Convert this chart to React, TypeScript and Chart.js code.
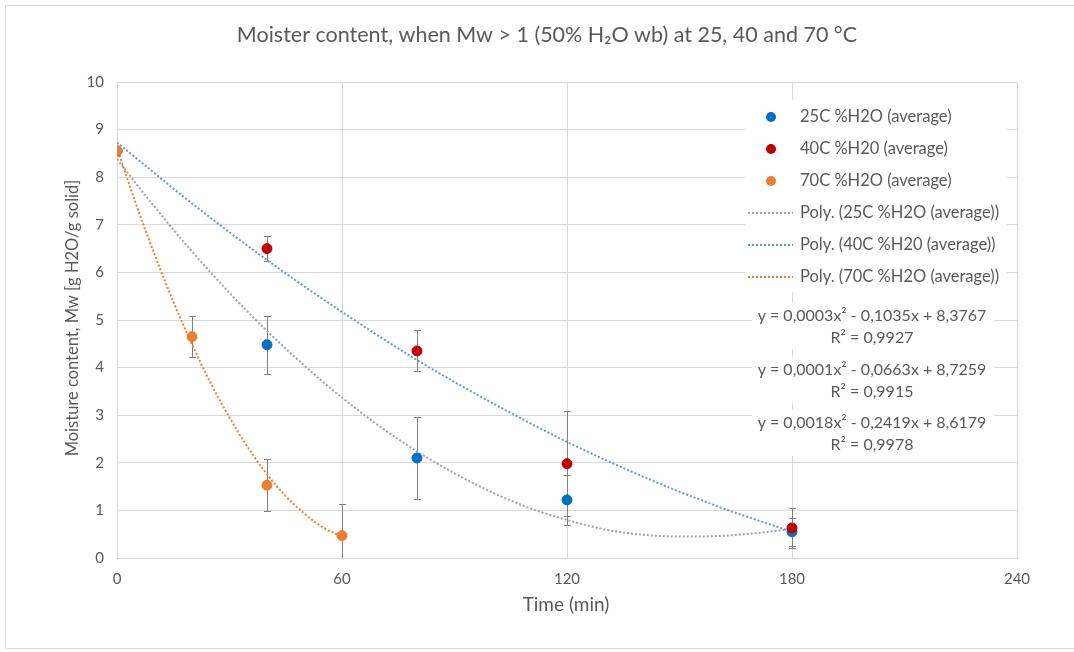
import { useEffect, useRef } from 'react';
import { Chart, registerables } from 'chart.js';
Chart.register(...registerables);

// ---- data ----
const t25 = [0, 40, 80, 120, 180];
const m25 = [8.55, 4.48, 2.1, 1.22, 0.55];
const e25 = [0, 0.61, 0.87, 0.52, 0.3];

const t40 = [0, 40, 80, 120, 180];
const m40 = [8.55, 6.5, 4.35, 1.98, 0.63];
const e40 = [0, 0.27, 0.43, 1.1, 0.42];

const t70 = [0, 20, 40, 60];
const m70 = [8.55, 4.65, 1.53, 0.47];
const e70 = [0, 0.43, 0.55, 0.66];

const trendT25 = [0, 10, 20, 30, 40, 50, 60, 70, 80, 90, 100, 110, 120, 130, 140, 150, 160, 170, 180];
const trendM25 = [8.38, 7.38, 6.44, 5.57, 4.77, 4.04, 3.37, 2.77, 2.24, 1.78, 1.38, 1.05, 0.8, 0.6, 0.49, 0.45, 0.46, 0.52, 0.61];

const trendT40 = [0, 20, 40, 60, 80, 100, 120, 140, 160, 180];
const trendM40 = [8.73, 7.45, 6.26, 5.17, 4.16, 3.26, 2.44, 1.72, 1.09, 0.55];

const trendT70 = [0, 5, 10, 15, 20, 25, 30, 35, 40, 45, 50, 55, 60];
const trendM70 = [8.62, 7.45, 6.38, 5.39, 4.49, 3.67, 2.95, 2.31, 1.76, 1.3, 0.93, 0.64, 0.45];

const legendLabels = [
  '25C %H2O (average)',
  '40C %H20 (average)',
  '70C %H2O (average)',
  'Poly. (25C %H2O (average))',
  'Poly. (40C %H20 (average))',
  'Poly. (70C %H2O (average))',
];
const equations = [
  ['y = 0,0003x² - 0,1035x + 8,3767', 'R² = 0,9927'],
  ['y = 0,0001x² - 0,0663x + 8,7259', 'R² = 0,9915'],
  ['y = 0,0018x² - 0,2419x + 8,6179', 'R² = 0,9978'],
];
const titleText = 'Moister content, when Mw > 1 (50% H₂O wb) at 25, 40 and 70 °C';
const xTitle = 'Time (min)';
const yTitle = 'Moisture content, Mw [g H2O/g solid]';

const BLUE = '#0070C0';
const RED = '#C00000';
const ORANGE = '#ED7D31';
const TREND25 = '#9AA3AD';
const TREND40 = '#5B9BD5';
const TREND70 = '#ED7D31';
const TEXT = '#595959';
const GRID = '#d9d9d9';
const FONT = 'Lato, "Open Sans", sans-serif';

const pts = (xs: number[], ys: number[]) => xs.map((x, i) => ({ x, y: ys[i] }));

export default function App() {
  const ref = useRef<HTMLCanvasElement>(null);
  useEffect(() => {
    document.body.style.margin = '0';
    const canvas = ref.current!;

    const errorSets = [
      { ds: 0, err: e70 },
      { ds: 1, err: e40 },
      { ds: 2, err: e25 },
    ];

    const deco = {
      id: 'deco',
      beforeDatasetsDraw(chart: any) {
        const { ctx, chartArea, scales } = chart;
        ctx.save();
        ctx.beginPath();
        ctx.rect(chartArea.left, chartArea.top, chartArea.right - chartArea.left, chartArea.bottom - chartArea.top);
        ctx.clip();
        ctx.strokeStyle = '#7f7f7f';
        ctx.lineWidth = 1;
        errorSets.forEach(({ ds, err }) => {
          const data = chart.data.datasets[ds].data as { x: number; y: number }[];
          data.forEach((p, i) => {
            const e = err[i];
            if (!e) return;
            const x = Math.round(scales.x.getPixelForValue(p.x)) + 0.5;
            const yt = Math.round(scales.y.getPixelForValue(p.y + e)) + 0.5;
            const yb = Math.round(scales.y.getPixelForValue(p.y - e)) + 0.5;
            ctx.beginPath();
            ctx.moveTo(x, yt);
            ctx.lineTo(x, yb);
            ctx.moveTo(x - 3.5, yt);
            ctx.lineTo(x + 3.5, yt);
            ctx.moveTo(x - 3.5, yb);
            ctx.lineTo(x + 3.5, yb);
            ctx.stroke();
          });
        });
        ctx.restore();
      },
      afterDraw(chart: any) {
        const { ctx } = chart;
        ctx.save();
        // outer frame
        ctx.strokeStyle = '#d9d9d9';
        ctx.lineWidth = 1;
        ctx.strokeRect(5.5, 5.5, 1100, 643);
        // title
        ctx.fillStyle = TEXT;
        ctx.textAlign = 'center';
        ctx.textBaseline = 'middle';
        ctx.font = `21.5px ${FONT}`;
        ctx.fillText(titleText, 547, 35);
        // axis titles
        ctx.font = `19px ${FONT}`;
        ctx.fillText(xTitle, 566, 605);
        ctx.save();
        ctx.translate(73, 318);
        ctx.rotate(-Math.PI / 2);
        ctx.font = `16.5px ${FONT}`;
        ctx.fillText(yTitle, 0, 0);
        ctx.restore();

        // legend
        ctx.fillStyle = '#ffffff';
        ctx.fillRect(745, 100, 262, 192);
        const rowY = [117, 149, 181, 213, 245, 277];
        const markerColors = [BLUE, RED, ORANGE];
        const lineColors = [TREND25, TREND40, TREND70];
        ctx.font = `16.5px ${FONT}`;
        ctx.textAlign = 'left';
        legendLabels.forEach((lab, i) => {
          const y = rowY[i];
          if (i < 3) {
            ctx.fillStyle = markerColors[i];
            ctx.beginPath();
            ctx.arc(771, y, 5, 0, Math.PI * 2);
            ctx.fill();
          } else {
            ctx.strokeStyle = lineColors[i - 3];
            ctx.lineWidth = 2;
            ctx.setLineDash([2, 2]);
            ctx.beginPath();
            ctx.moveTo(748, y);
            ctx.lineTo(793, y);
            ctx.stroke();
            ctx.setLineDash([]);
          }
          ctx.fillStyle = TEXT;
          ctx.fillText(lab, 800, y);
        });

        // equations
        const eqY = [316, 370, 423];
        ctx.textAlign = 'center';
        ctx.font = `16px ${FONT}`;
        equations.forEach((eq, i) => {
          const y = eqY[i];
          ctx.fillStyle = '#ffffff';
          ctx.fillRect(752, y - 13, 242, 46);
          ctx.fillStyle = TEXT;
          ctx.fillText(eq[0], 872, y);
          ctx.fillText(eq[1], 872, y + 22);
        });
        ctx.restore();
      },
    };

    const chart = new Chart(canvas, {
      type: 'scatter',
      data: {
        datasets: [
          { label: legendLabels[2], data: pts(t70, m70), backgroundColor: ORANGE, borderColor: ORANGE, pointRadius: 5, pointHoverRadius: 5, showLine: false },
          { label: legendLabels[1], data: pts(t40, m40), backgroundColor: RED, borderColor: RED, pointRadius: 5, pointHoverRadius: 5, showLine: false },
          { label: legendLabels[0], data: pts(t25, m25), backgroundColor: BLUE, borderColor: BLUE, pointRadius: 5, pointHoverRadius: 5, showLine: false },
          { label: legendLabels[5], data: pts(trendT70, trendM70), borderColor: TREND70, borderWidth: 2, borderDash: [2, 2], pointRadius: 0, showLine: true, tension: 0.4, cubicInterpolationMode: 'monotone' },
          { label: legendLabels[4], data: pts(trendT40, trendM40), borderColor: TREND40, borderWidth: 2, borderDash: [2, 2], pointRadius: 0, showLine: true, tension: 0.4, cubicInterpolationMode: 'monotone' },
          { label: legendLabels[3], data: pts(trendT25, trendM25), borderColor: TREND25, borderWidth: 2, borderDash: [2, 2], pointRadius: 0, showLine: true, tension: 0.4, cubicInterpolationMode: 'monotone' },
        ] as any,
      },
      options: {
        responsive: false,
        animation: false,
        devicePixelRatio: 1,
        layout: { padding: { top: 82, right: 57, bottom: 0, left: 0 } },
        plugins: { legend: { display: false }, title: { display: false }, tooltip: { enabled: false } },
        scales: {
          x: {
            type: 'linear',
            min: 0,
            max: 240,
            ticks: { stepSize: 60, color: TEXT, font: { family: FONT, size: 15 }, padding: 12 },
            grid: { color: GRID, drawTicks: false },
            border: { color: GRID },
            afterFit: (s: any) => { s.height = 94; },
          },
          y: {
            type: 'linear',
            min: 0,
            max: 10,
            ticks: { stepSize: 1, color: TEXT, font: { family: FONT, size: 15 }, padding: 13 },
            grid: { color: GRID, drawTicks: false },
            border: { color: GRID },
            afterFit: (s: any) => { s.width = 117; },
          },
        },
      } as any,
      plugins: [deco],
    });
    return () => chart.destroy();
  }, []);
  return (
    <div style={{ width: 1074, height: 652, position: 'relative', background: '#fff' }}>
      <canvas ref={ref} width={1074} height={652} style={{ display: 'block' }} />
    </div>
  );
}
